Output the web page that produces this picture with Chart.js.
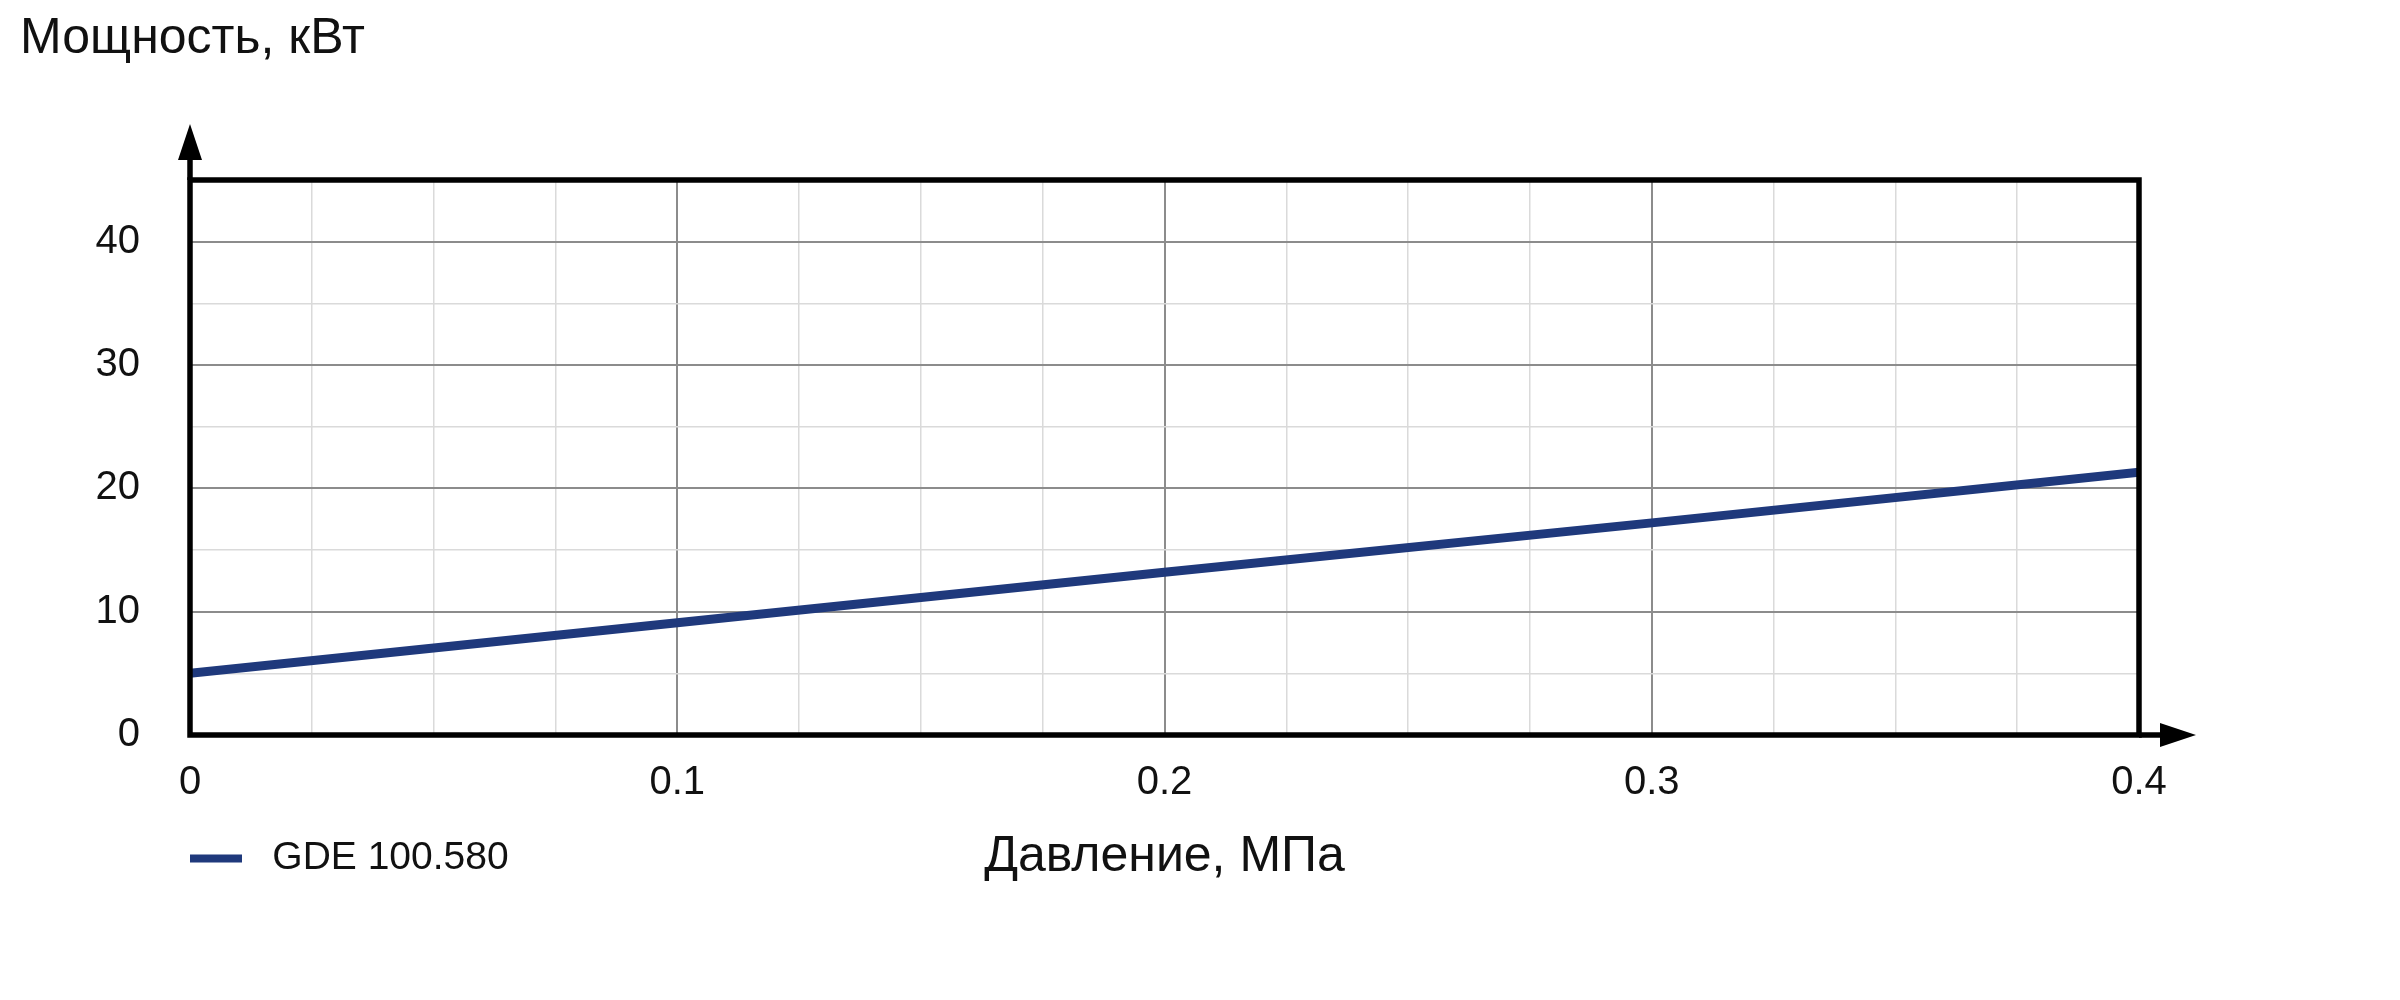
<!DOCTYPE html>
<html lang="ru">
<head>
<meta charset="utf-8">
<title>Мощность GDE 100.580</title>
<script src="https://cdn.jsdelivr.net/npm/chart.js@4.4.1/dist/chart.umd.min.js"></script>
<style>
  html, body { margin: 0; padding: 0; background: #fff; }
  #wrap { width: 2400px; height: 1000px; }
</style>
</head>
<body>
<div id="wrap"><canvas id="chart" width="2400" height="1000"></canvas></div>
<script>
// Values
const seriesName = 'GDE 100.580';
const pressure = [0, 0.1, 0.2, 0.3, 0.4];     // МПа
const power = [5.0, 9.1, 13.2, 17.2, 21.3];   // кВт

// Labelled (major) ticks; the minor grid comes from the step size
const xTickValues = [0, 0.1, 0.2, 0.3, 0.4];
const xTickLabels = ['0', '0.1', '0.2', '0.3', '0.4'];
const yTickValues = [0, 10, 20, 30, 40];
const yTickLabels = ['0', '10', '20', '30', '40'];

const xTitle = 'Давление, МПа';
const yTitle = 'Мощность, кВт';

const FONT = "'Liberation Sans', Arial, sans-serif";
const TEXT = '#111';
const lineColor = '#1f397c';
const majorGrid = '#8c8c8c';
const minorGrid = '#dadada';

// Find the label for a tick value, or '' for a minor tick
function tickLabel(value, values, labels) {
    const i = values.findIndex(v => Math.abs(v - value) < 1e-6);
    return i === -1 ? '' : labels[i];
}

function isMajor(value, values) {
    return values.some(v => Math.abs(v - value) < 1e-6);
}

// Black frame round the plot, axis arrows and the two axis titles
const framePlugin = {
    id: 'frame',
    afterDatasetsDraw(chart) {
        const { ctx, chartArea: a } = chart;
        ctx.save();
        ctx.strokeStyle = '#000';
        ctx.fillStyle = '#000';
        ctx.lineWidth = 5.5;
        ctx.strokeRect(a.left, a.top, a.right - a.left, a.bottom - a.top);

        // y axis arrow
        ctx.beginPath();
        ctx.moveTo(a.left, a.top);
        ctx.lineTo(a.left, a.top - 24);
        ctx.stroke();
        ctx.beginPath();
        ctx.moveTo(a.left, a.top - 56);
        ctx.lineTo(a.left - 12, a.top - 20);
        ctx.lineTo(a.left + 12, a.top - 20);
        ctx.closePath();
        ctx.fill();

        // x axis arrow
        ctx.beginPath();
        ctx.moveTo(a.right, a.bottom);
        ctx.lineTo(a.right + 24, a.bottom);
        ctx.stroke();
        ctx.beginPath();
        ctx.moveTo(a.right + 57, a.bottom);
        ctx.lineTo(a.right + 21, a.bottom - 12);
        ctx.lineTo(a.right + 21, a.bottom + 12);
        ctx.closePath();
        ctx.fill();
        ctx.restore();
    },
    afterDraw(chart) {
        const { ctx, chartArea: a } = chart;
        ctx.save();
        ctx.fillStyle = TEXT;
        ctx.font = '50px ' + FONT;
        ctx.textBaseline = 'alphabetic';
        ctx.textAlign = 'left';
        ctx.fillText(yTitle, 20, 53);
        ctx.textAlign = 'center';
        ctx.fillText(xTitle, (a.left + a.right) / 2, 871);
        ctx.restore();
    }
};

const ctx = document.getElementById('chart').getContext('2d');
const chart = new Chart(ctx, {
    type: 'line',
    data: {
        datasets: [{
            label: seriesName,
            data: pressure.map((p, i) => ({ x: p, y: power[i] })),
            borderColor: lineColor,
            backgroundColor: lineColor,
            borderWidth: 9,
            borderCapStyle: 'round',
            pointRadius: 0,
            tension: 0,
            fill: false
        }]
    },
    options: {
        responsive: false,
        animation: false,
        devicePixelRatio: 1,
        layout: {
            padding: { top: 180, right: 261, bottom: 112, left: 0 }
        },
        scales: {
            x: {
                type: 'linear',
                min: 0,
                max: 0.4,
                afterFit: scale => { scale.height = 104; },
                border: { display: false },
                grid: {
                    drawTicks: false,
                    color: c => isMajor(c.tick.value, xTickValues) ? majorGrid : minorGrid,
                    lineWidth: c => isMajor(c.tick.value, xTickValues) ? 2 : 1.5
                },
                ticks: {
                    stepSize: 0.025,
                    autoSkip: false,
                    maxRotation: 0,
                    padding: 24,
                    color: TEXT,
                    font: { family: FONT, size: 40 },
                    callback: value => tickLabel(value, xTickValues, xTickLabels)
                }
            },
            y: {
                type: 'linear',
                min: 0,
                max: 45,
                afterFit: scale => { scale.width = 190; },
                border: { display: false },
                grid: {
                    drawTicks: false,
                    color: c => isMajor(c.tick.value, yTickValues) ? majorGrid : minorGrid,
                    lineWidth: c => isMajor(c.tick.value, yTickValues) ? 2 : 1.5
                },
                ticks: {
                    stepSize: 5,
                    autoSkip: false,
                    padding: 50,
                    color: TEXT,
                    font: { family: FONT, size: 40 },
                    callback: value => tickLabel(value, yTickValues, yTickLabels)
                }
            }
        },
        plugins: {
            legend: {
                position: 'bottom',
                align: 'start',
                fullSize: false,
                labels: {
                    boxWidth: 52,
                    boxHeight: 8,
                    padding: 0,
                    color: TEXT,
                    font: { family: FONT, size: 39 },
                    // flat swatch with no outline, a little more room before the text
                    generateLabels: c => Chart.defaults.plugins.legend.labels.generateLabels(c)
                        .map(item => ({ ...item, text: ' ' + item.text, lineWidth: 0, fillStyle: lineColor }))
                }
            },
            tooltip: { enabled: false }
        }
    },
    plugins: [framePlugin]
});
</script>
</body>
</html>
